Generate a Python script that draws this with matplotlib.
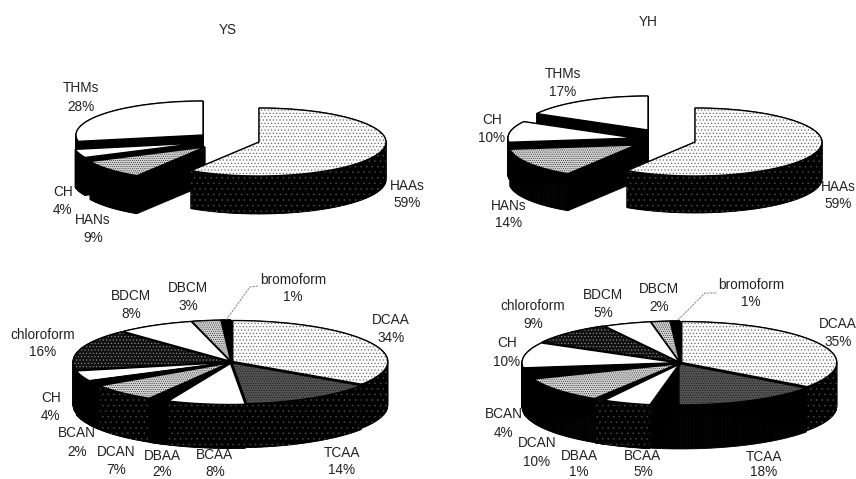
import numpy as np
import matplotlib
matplotlib.use('Agg')
import matplotlib.pyplot as plt
from matplotlib.patches import Polygon

plt.rcParams['font.family'] = ['Liberation Sans', 'DejaVu Sans']
plt.rcParams['hatch.linewidth'] = 0.4

# top pies, clockwise from 12 o'clock
group_names = ['HAAs', 'HANs', 'CH', 'THMs']
ys_group = [59, 9, 4, 28]
yh_group = [59, 14, 10, 17]

# bottom pies, clockwise from 12 o'clock
species_names = ['DCAA', 'TCAA', 'BCAA', 'DBAA', 'DCAN', 'BCAN', 'CH',
                 'chloroform', 'BDCM', 'DBCM', 'bromoform']
ys_species = [34, 14, 8, 2, 7, 2, 4, 16, 8, 3, 1]
yh_species = [35, 18, 5, 1, 10, 4, 10, 9, 5, 2, 1]

group_fill = ['dots', 'grid', 'white', 'white']
species_fill = ['dots', 'dark', 'white', 'black', 'grid', 'black', 'white',
                'darker', 'white', 'grid', 'black']

# face colour, hatch colour, hatch
fills = {
    'dots': ('#fbfbfb', '#555555', '.....'),
    'grid': ('#d4d4d4', '#222222', '........'),
    'dark': ('#555555', '#111111', '.......'),
    'darker': ('#111111', '#999999', '.....'),
    'white': ('#ffffff', None, None),
    'black': ('#000000', None, None),
}

fig = plt.figure(figsize=(8.56, 4.79), dpi=100)
ax = fig.add_axes([0, 0, 1, 1])
ax.set_xlim(0, 856)
ax.set_ylim(479, 0)
ax.axis('off')


# one wedge of a fake 3D pie, angles in degrees, y axis points down
def draw_wedge(x0, y0, a, b, depth, t1, t2, fill, rim_dots, z):
    t = np.radians(np.linspace(t1, t2, 60))
    arc_x = x0 + a * np.cos(t)
    arc_y = y0 - b * np.sin(t)
    top = np.column_stack([np.r_[x0, arc_x], np.r_[y0, arc_y]])
    n = len(top)
    for i in range(n):
        p = top[i]
        q = top[(i + 1) % n]
        quad = [p, q, q + [0, depth], p + [0, depth]]
        ax.add_patch(Polygon(quad, closed=True, fc='black', ec='black', lw=0.6, zorder=z))
    if rim_dots:
        front = np.sin(t) < 0.05
        if front.sum() > 1:
            upper = np.column_stack([arc_x[front], arc_y[front]])
            strip = np.vstack([upper, (upper + [0, depth])[::-1]])
            ax.add_patch(Polygon(strip, closed=True, fc='black', ec='#4a4a4a', lw=0,
                                 hatch='...', zorder=z))
    fc, hc, hatch = fills[fill]
    if hatch:
        ax.add_patch(Polygon(top, closed=True, fc=fc, ec=hc, lw=0, hatch=hatch, zorder=z))
    else:
        ax.add_patch(Polygon(top, closed=True, fc=fc, ec='none', zorder=z))
    ax.add_patch(Polygon(top, closed=True, fill=False, ec='black', lw=1.0, zorder=z))


def draw_pie(values, styles, apexes, order, a, b, depth, rim):
    total = float(sum(values))
    edges = 90 - 360 * np.r_[0, np.cumsum(values)] / total
    for z, i in enumerate(order):
        draw_wedge(apexes[i][0], apexes[i][1], a, b, depth, edges[i], edges[i + 1],
                   styles[i], rim[i], 2 + z)


def apexes_from_explode(values, cx, cy, explode):
    total = float(sum(values))
    edges = 90 - 360 * np.r_[0, np.cumsum(values)] / total
    mids = np.radians((edges[:-1] + edges[1:]) / 2)
    return [(cx + e * np.cos(m), cy - 0.5 * e * np.sin(m)) for e, m in zip(explode, mids)]


def put_labels(names, values, positions):
    for name, val, (x, y1, y2) in zip(names, values, positions):
        ax.text(x, y1, name, ha='center', va='center', fontsize=9.8, color='#222222', zorder=30)
        ax.text(x, y2, '%d%%' % val, ha='center', va='center', fontsize=9.8, color='#222222', zorder=30)


# top pies
draw_pie(ys_group, group_fill, [(259, 142), (205, 147), (200, 143), (203, 135)],
         [3, 2, 1, 0], 127, 34, 38, [True, False, False, False])
draw_pie(yh_group, group_fill, [(695, 142), (636, 145), (635, 138), (648, 130)],
         [3, 2, 1, 0], 127, 34, 37, [True, False, False, False])

# bottom pies
ys_explode = [2, 2, 3, 3, 3, 3, 3, 3, 2, 2, 2]
yh_explode = [2, 2, 3, 3, 3, 3, 3, 3, 2, 2, 2]
back_to_front = [10, 9, 8, 0, 7, 6, 1, 5, 4, 3, 2]
draw_pie(ys_species, species_fill, apexes_from_explode(ys_species, 231, 362, ys_explode),
         back_to_front, 155, 41, 44,
         [True, True, True, False, True, False, False, False, False, False, False])
draw_pie(yh_species, species_fill, apexes_from_explode(yh_species, 680, 363, yh_explode),
         back_to_front, 155, 41, 44,
         [True, False, True, True, False, False, False, False, False, False, False])

# titles
ax.text(228, 30, 'YS', ha='center', va='center', fontsize=9.8, color='#222222')
ax.text(648, 22, 'YH', ha='center', va='center', fontsize=9.8, color='#222222')

# labels
put_labels(group_names, ys_group,
           [(407, 186, 203), (93, 220, 238), (63, 192, 210), (81, 88, 107)])
put_labels(group_names, yh_group,
           [(838, 187, 204), (509, 206, 223), (492, 120, 138), (563, 74, 92)])
put_labels(species_names, ys_species,
           [(391, 320, 338), (342, 453, 470), (215, 455, 472), (162, 456, 472),
            (116, 452, 470), (77, 433, 452), (51, 398, 416), (43, 335, 352),
            (131, 296, 314), (188, 288, 306), (293, 280, 297)])
put_labels(species_names, yh_species,
           [(838, 324, 342), (764, 457, 472), (643, 456, 472), (579, 456, 472),
            (537, 443, 462), (504, 414, 433), (507, 343, 362), (533, 306, 324),
            (603, 295, 313), (659, 289, 307), (751, 285, 302)])

# leader lines to the bromoform labels
ax.plot([226, 250, 258], [320, 287, 286], color='#777777', lw=0.6, ls=(0, (3, 1)), zorder=30)
ax.plot([678, 705, 717], [320, 293, 293], color='#777777', lw=0.6, ls=(0, (3, 1)), zorder=30)

fig.savefig('out.png', dpi=100)
